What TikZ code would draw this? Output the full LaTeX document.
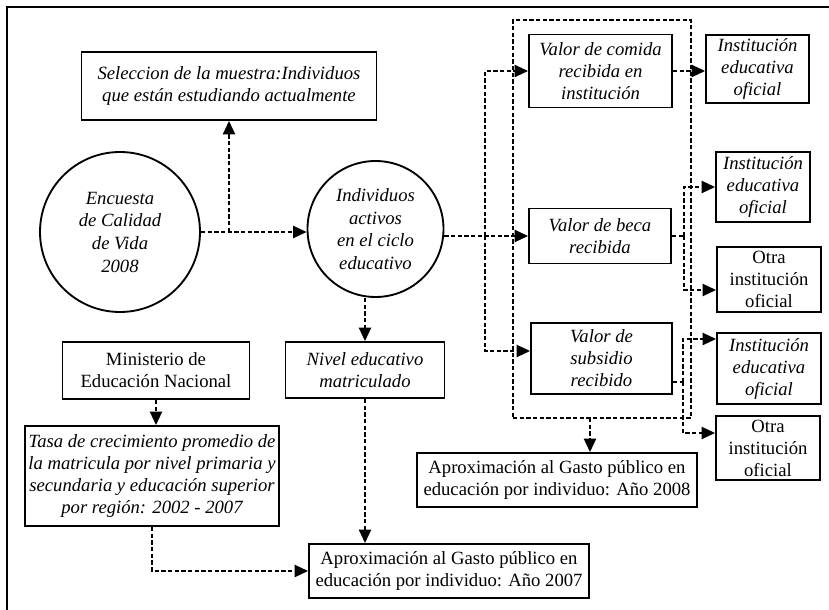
\documentclass[tikz,border=0pt]{standalone}
\usepackage{fontspec}
\setmainfont{Liberation Serif}
\usetikzlibrary{arrows.meta,calc}
\begin{document}
\begin{tikzpicture}[x=0.75pt,y=-0.75pt,
  wh/.style 2 args={minimum width=#1*0.75pt, minimum height=#2*0.75pt},
  box/.style={draw, line width=1.4pt, inner sep=0pt, align=center, font=\fontsize{14}{16.5}\selectfont\itshape},
  boxr/.style={box, font=\fontsize{14}{16.5}\selectfont\upshape},
  circ/.style={draw, circle, line width=1.4pt, inner sep=0pt, align=center, font=\fontsize{14}{17}\selectfont\itshape},
  grp/.style={draw, line width=1.5pt, dash pattern=on 3.2pt off 1.8pt, inner sep=0pt},
  dl/.style={line width=1.5pt, dash pattern=on 3.2pt off 1.8pt},
  arr/.style={dl, -{Triangle[length=10pt,width=9pt]}}
]
\useasboundingbox (0,0) rectangle (829,610);
\draw[line width=1.6pt] (7,620) -- (7,7) -- (840,7);

\node[box, wh={295}{68}] (sel) at (229,86) {Seleccion de la muestra:Individuos\\que están estudiando actualmente};
\node[circ, minimum size=160*0.75pt] (enc) at (120,232) {Encuesta\\de Calidad\\de Vida\\2008};
\node[circ, minimum size=136*0.75pt] (ind) at (375.5,229) {Individuos\\activos\\en el ciclo\\educativo};
\node[box, wh={143}{73}] (comida) at (600.5,71) {Valor de comida\\recibida en\\institución};
\node[box, wh={103}{68}] (inst1) at (757.5,69) {Institución\\educativa\\oficial};
\node[box, wh={142}{55}] (beca) at (600,236) {Valor de beca\\recibida};
\node[box, wh={94}{70}] (inst2) at (763,187) {Institución\\educativa\\oficial};
\node[boxr, wh={104}{65}] (otra1) at (769,279.5) {Otra\\institución\\oficial};
\node[box, wh={141}{71}] (subs) at (601.5,358.5) {Valor de\\subsidio\\recibido};
\node[box, wh={104}{71}] (inst3) at (769,368.5) {Institución\\educativa\\oficial};
\node[boxr, wh={104}{64}] (otra2) at (768,448) {Otra\\institución\\oficial};
\node[boxr, wh={280}{54}] (a2008) at (557,480) {Aproximación al Gasto público en\\educación por individuo: Año 2008};
\node[boxr, wh={280}{54}] (a2007) at (449,571) {Aproximación al Gasto público en\\educación por individuo: Año 2007};
\node[boxr, wh={187}{57}] (mini) at (156,370.5) {Ministerio de\\Educación Nacional};
\node[box, wh={254}{100}] (tasa) at (152,476) {Tasa de crecimiento promedio de\\la matricula por nivel primaria y\\secundaria y educación superior\\por región: 2002 - 2007};
\node[box, wh={159}{56}] (nivel) at (365,370) {Nivel educativo\\matriculado};
\node[grp, wh={178}{398}] (grp) at (602,219) {};

\draw[arr] (enc.east) -- (ind.west |- enc.east);
\draw[arr] (sel.south |- enc.east) -- (sel.south);
\draw[arr] (nivel.north |- ind.south) -- (nivel.north);
\draw[arr] (nivel.south) -- (nivel.south |- a2007.north);
\draw[arr] (tasa.south) |- (a2007.west);
\draw[arr] (mini.south) -- (mini.south |- tasa.north);
\draw[arr] (ind.east |- beca.west) -- (beca.west);
\coordinate (bx) at (485,236);
\coordinate (sx) at (485,351);
\draw[arr] (bx) |- (comida.west);
\draw[arr] (bx) -- (sx) -- (sx -| subs.west);
\draw[arr] (comida.east) -- (comida.east -| inst1.west);
\coordinate (bb) at (684,236);
\coordinate (bo) at (684,290);
\draw[dl] (beca.east) -- (bb);
\draw[arr] (bb) |- (inst2.west);
\draw[arr] (bb) -- (bo) -- (bo -| otra1.west);
\coordinate (sb) at (683,382);
\coordinate (si) at (683,339);
\coordinate (so) at (683,433);
\draw[dl] (subs.east |- sb) -- (sb);
\draw[arr] (sb) -- (si) -- (si -| inst3.west);
\draw[arr] (sb) -- (so) -- (so -| otra2.west);
\coordinate (g8) at (590,418);
\draw[arr] (g8) -- (g8 |- a2008.north);
\end{tikzpicture}
\end{document}
